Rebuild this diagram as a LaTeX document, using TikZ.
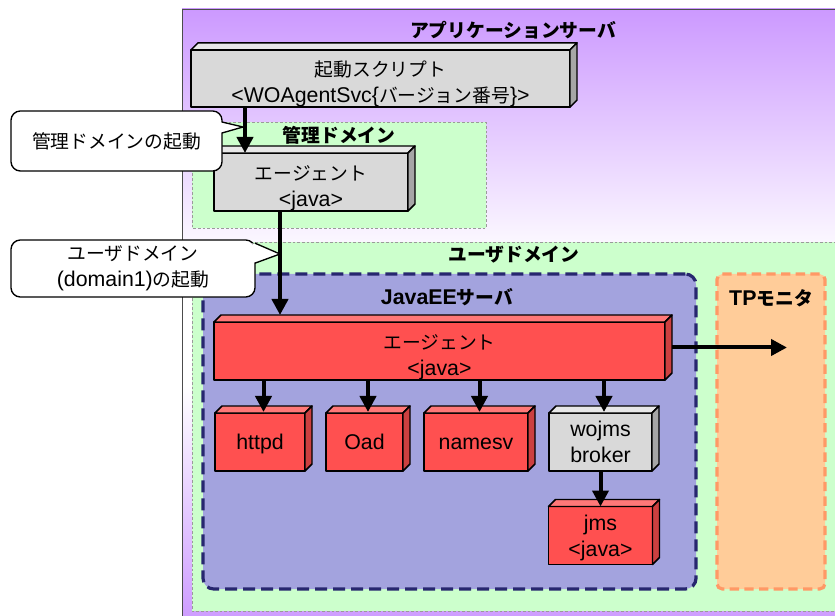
\documentclass[tikz,border=0pt]{standalone}
\usepackage{fontspec}
\setmainfont{Liberation Sans}
\newfontfamily\jpfont[Scale=0.88]{Noto Sans CJK JP}
\newcommand{\jp}[1]{{\jpfont #1}}
% text of a box, set a little below the middle of its front face
\newcommand{\cubeText}[2][4.5pt]{\raisebox{-#1}[\height][\depth]{\begin{tabular}{@{}c@{}}#2\end{tabular}}}
\usetikzlibrary{
  arrows.meta,
  calc
}
\definecolor{srvPurple}{HTML}{CC99FF}
\definecolor{domGreen}{HTML}{CCFFCC}
\definecolor{domBorder}{HTML}{9A9A9A}
\definecolor{jeeFill}{HTML}{A3A3DE}
\definecolor{jeeBorder}{HTML}{27276F}
\definecolor{tpFill}{HTML}{FFCC99}
\definecolor{tpBorder}{HTML}{FF9966}
\definecolor{redFront}{HTML}{FF5050}
\definecolor{redTop}{HTML}{FF7878}
\definecolor{redSide}{HTML}{CC4040}
\definecolor{greyFront}{HTML}{D9D9D9}
\definecolor{greyTop}{HTML}{E8E8E8}
\definecolor{greySide}{HTML}{A6A6A6}
\pgfdeclareverticalshading{srvShade}{100bp}{color(0bp)=(srvPurple); color(25bp)=(srvPurple); color(44.5bp)=(white); color(54.5bp)=(white); color(75bp)=(srvPurple); color(100bp)=(srvPurple)}
\tikzset{
  cubeEdge/.style={draw=black, line width=1.1pt, line join=round},
  cubeBase/.style={
    cubeEdge,
    outer sep=0pt,
    inner sep=2pt,
    minimum height=43.5pt,
    align=center,
    font=\fontsize{16}{19.5}\selectfont
  },
  redCube/.style={cubeBase, fill=redFront},
  greyCube/.style={cubeBase, fill=greyFront},
  srvArrow/.style={line width=3pt, -{Triangle[length=12pt,width=12pt]}},
  domainBox/.style={fill=domGreen, draw=domBorder, line width=0.5pt, dash pattern=on 2pt off 1.5pt},
  jeeBox/.style={
    fill=jeeFill,
    draw=jeeBorder,
    line width=2.4pt,
    dash pattern=on 9pt off 4.5pt,
    rounded corners=8pt,
    outer sep=0pt
  },
  tpBox/.style={
    fill=tpFill,
    draw=tpBorder,
    line width=2.4pt,
    dash pattern=on 7pt off 4pt,
    rounded corners=4pt,
    outer sep=0pt
  },
  domainLabel/.style={font=\bfseries\fontsize{16}{19.5}\selectfont, inner sep=0pt},
  calloutBox/.style={
    draw=black,
    fill=white,
    line width=1pt,
    rounded corners=7pt,
    outer sep=0pt,
    align=center,
    font=\fontsize{16}{19.5}\selectfont
  },
  calloutLine/.style={draw=black, line width=1pt, line join=miter}
}
% top and right faces of a box node
\newcommand{\cubeFaces}[2]{%
  \filldraw[fill=#2Top, cubeEdge] (#1.north west) -- ++(7,-7) -- ($(#1.north east)+(7,-7)$) -- (#1.north east) -- cycle;
  \filldraw[fill=#2Side, cubeEdge] (#1.north east) -- ++(7,-7) -- ($(#1.south east)+(7,-7)$) -- (#1.south east) -- cycle;
}
\begin{document}
\begin{tikzpicture}[x=0.75pt,y=-0.75pt]
  \useasboundingbox (0,0) rectangle (835,616);
  \clip (0,0) rectangle (835,616);
  \fill[white] (0,0) rectangle (835,616);

  % containers
  \shade[shading=srvShade] (182,9) rectangle (845,626);
  \draw[line width=0.6pt, black!70] (845,9) -- (182,9) -- (182,626);
  \draw[domainBox] (192,122) rectangle (486,228);
  \draw[domainBox] (192,242) rectangle (850,611);
  \node[jeeBox, minimum width=369.75pt, minimum height=236.25pt] (javaee) at (449.5,431.5) {};
  \node[tpBox, minimum width=81pt, minimum height=236.25pt] (tp) at (771,431.5) {};

  \node[domainLabel] (srvTitle) at (513,30) {\jp{アプリケーションサーバ}};
  \node[domainLabel] (mgmtTitle) at (339,135) {\jp{管理ドメイン}};
  \node[domainLabel] (userTitle) at (514,255) {\jp{ユーザドメイン}};
  \node[domainLabel] (jeeTitle) at (447,297) {JavaEE\jp{サーバ}};
  \node[domainLabel] (tpTitle) at (771,298) {TP\jp{モニタ}};

  % processes
  \node[greyCube, minimum width=284.25pt, minimum height=42.75pt] (script) at (380.5,78.5)
    {\cubeText{\jp{起動スクリプト}\\<WOAgentSvc\{\jp{バージョン番号}\}>}};
  \cubeFaces{script}{grey}
  \node[greyCube, minimum width=145.5pt] (mgmtAgent) at (311,182) {\cubeText{\jp{エージェント}\\<java>}};
  \cubeFaces{mgmtAgent}{grey}
  \node[redCube, minimum width=338.25pt] (agent) at (439.5,351) {\cubeText{\jp{エージェント}\\<java>}};
  \cubeFaces{agent}{red}
  \node[redCube, minimum width=67.5pt] (httpd) at (260,442) {\cubeText[2pt]{httpd}};
  \cubeFaces{httpd}{red}
  \node[redCube, minimum width=57.75pt] (oad) at (364.5,442) {\cubeText[2pt]{Oad}};
  \cubeFaces{oad}{red}
  \node[redCube, minimum width=78pt] (namesv) at (476,442) {\cubeText[2pt]{namesv}};
  \cubeFaces{namesv}{red}
  \node[greyCube, minimum width=77.25pt] (wojms) at (600.5,442) {\cubeText[2pt]{wojms\\broker}};
  \cubeFaces{wojms}{grey}
  \node[redCube, minimum width=78pt] (jms) at (600.5,535.5) {\cubeText[2pt]{jms\\<java>}};
  \cubeFaces{jms}{red}

  % flows
  \draw[srvArrow] ([xshift=40.5pt]script.south west) -- ([xshift=23.25pt]mgmtAgent.north west);
  \draw[srvArrow] ([xshift=49.5pt]mgmtAgent.south west) -- ([xshift=49.5pt,yshift=5.25pt]agent.north west);
  \foreach \kid in {httpd,oad,namesv,wojms} {
    \draw[srvArrow] ($(agent.south -| \kid.north)+(3.5,0)$) -- ($(\kid.north)+(3.5,-1)$);
  }
  \draw[srvArrow] (wojms.south) -- (jms.north);
  \draw[srvArrow] ($(agent.east)+(7,-3.5)$) -- ($(agent.east -| tp.center)+(16,-3.5)$);

  % callouts
  \node[calloutBox, minimum width=158.25pt, minimum height=45pt] (mgmtStart) at (116.5,141) {\jp{管理ドメインの起動}};
  \coordinate (mgmtTip) at (243,127);
  \fill[white] ([xshift=-2pt,yshift=14.25pt]mgmtStart.east) -- (mgmtTip) -- ([xshift=-2pt,yshift=6pt]mgmtStart.east) -- cycle;
  \draw[calloutLine] ([yshift=14.25pt]mgmtStart.east) -- (mgmtTip) -- ([yshift=6pt]mgmtStart.east);

  \node[calloutBox, minimum width=183pt, minimum height=42.75pt] (userStart) at (133,268.5) {\jp{ユーザドメイン}\\(domain1)\jp{の起動}};
  \coordinate (userTip) at (280,254);
  \fill[white] ([xshift=-2pt,yshift=19pt]userStart.east) -- (userTip) -- ([xshift=-2pt,yshift=4pt]userStart.east) -- cycle;
  \draw[calloutLine] ([yshift=19pt]userStart.east) -- (userTip) -- ([yshift=4pt]userStart.east);
\end{tikzpicture}
\end{document}
